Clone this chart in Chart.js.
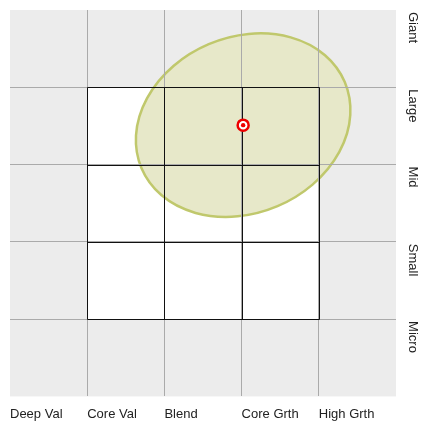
<!DOCTYPE html>
<html>
<head>
<meta charset="utf-8">
<script src="https://cdn.jsdelivr.net/npm/chart.js@4"></script>
<style>
    body { margin: 0; background: #ffffff; overflow: hidden; }
    canvas { display: block; }
</style>
</head>
<body>
<canvas id="grafico" width="422" height="424"></canvas>
<script>
// estilo (columnas) y capitalizacion (filas, de arriba hacia abajo)
let estilos = ['Deep Val', 'Core Val', 'Blend', 'Core Grth', 'High Grth'];
let tamanos = ['Giant', 'Large', 'Mid', 'Small', 'Micro'];

// caja 3x3 (en unidades de la grilla)
let cajaX = [1, 4];
let cajaY = [1, 4];

// posicion del fondo y su elipse de dispersion
let puntoX = [3.02];
let puntoY = [3.51];
let elipseRadio = [1.43, 1.14];
let elipseAngulo = -23;

let fuente = "Arial, 'Liberation Sans', sans-serif";

let pluginFondo = {
    id: 'fondo',
    beforeDraw: function(chart) {
        let ctx = chart.ctx;
        let a = chart.chartArea;
        let sx = chart.scales.x;
        let sy = chart.scales.y;

        ctx.save();
        ctx.fillStyle = '#ececec';
        ctx.fillRect(a.left, a.top, a.right - a.left, a.bottom - a.top);

        // celdas blancas de la caja
        let x0 = sx.getPixelForValue(cajaX[0]);
        let x1 = sx.getPixelForValue(cajaX[1]);
        let y0 = sy.getPixelForValue(cajaY[1]);
        let y1 = sy.getPixelForValue(cajaY[0]);
        ctx.fillStyle = '#ffffff';
        ctx.fillRect(x0, y0, x1 - x0, y1 - y0);

        // elipse
        let cx = sx.getPixelForValue(puntoX[0]);
        let cy = sy.getPixelForValue(puntoY[0]);
        let rx = sx.getPixelForValue(puntoX[0] + elipseRadio[0]) - cx;
        let ry = sx.getPixelForValue(puntoX[0] + elipseRadio[1]) - cx;
        ctx.beginPath();
        ctx.ellipse(cx, cy, rx, ry, elipseAngulo * Math.PI / 180, 0, Math.PI * 2);
        ctx.fillStyle = '#e7e8c9';
        ctx.fill();
        ctx.strokeStyle = '#c0c86c';
        ctx.lineWidth = 2.5;
        ctx.stroke();
        ctx.restore();
    },
    beforeDatasetsDraw: function(chart) {
        let ctx = chart.ctx;
        let sx = chart.scales.x;
        let sy = chart.scales.y;

        let x0 = Math.round(sx.getPixelForValue(cajaX[0])) + 0.5;
        let x1 = Math.round(sx.getPixelForValue(cajaX[1])) + 0.5;
        let y0 = Math.round(sy.getPixelForValue(cajaY[1])) + 0.5;
        let y1 = Math.round(sy.getPixelForValue(cajaY[0])) + 0.5;

        ctx.save();
        ctx.strokeStyle = '#111111';
        ctx.lineWidth = 1;
        ctx.beginPath();
        for (let v = cajaX[0]; v <= cajaX[1]; v++) {
            let px = Math.round(sx.getPixelForValue(v)) + 0.5;
            ctx.moveTo(px, y0);
            ctx.lineTo(px, y1);
        }
        for (let v = cajaY[0]; v <= cajaY[1]; v++) {
            let py = Math.round(sy.getPixelForValue(v)) + 0.5;
            ctx.moveTo(x0, py);
            ctx.lineTo(x1, py);
        }
        ctx.stroke();
        ctx.restore();
    },
    afterDraw: function(chart) {
        let ctx = chart.ctx;
        let sy = chart.scales.y;
        let a = chart.chartArea;
        ctx.save();
        ctx.font = '13px ' + fuente;
        ctx.fillStyle = '#222222';
        ctx.textAlign = 'left';
        ctx.textBaseline = 'middle';
        for (let i = 0; i < tamanos.length; i++) {
            let py = sy.getPixelForValue(5 - i) + 2;
            ctx.save();
            ctx.translate(a.right + 17, py);
            ctx.rotate(Math.PI / 2);
            ctx.fillText(tamanos[i], 0, 0);
            ctx.restore();
        }
        ctx.restore();
    }
};

function colorGrilla(c) {
    if (c.tick.value === 0 || c.tick.value === 5) {
        return 'rgba(0,0,0,0)';
    }
    return '#aaaaaa';
}

new Chart(document.getElementById('grafico'), {
    type: 'scatter',
    data: {
        datasets: [{
            // punto central (el dataset 0 se dibuja encima)
            data: [{ x: puntoX[0], y: puntoY[0] }],
            pointRadius: 2.2,
            pointBorderWidth: 0,
            pointBackgroundColor: '#ee0000',
            pointBorderColor: '#ee0000'
        }, {
            data: [{ x: puntoX[0], y: puntoY[0] }],
            pointRadius: 5.5,
            pointBorderWidth: 2.5,
            pointBackgroundColor: '#ffffff',
            pointBorderColor: '#ee0000'
        }]
    },
    plugins: [pluginFondo],
    options: {
        responsive: false,
        animation: false,
        devicePixelRatio: 1,
        layout: {
            autoPadding: false,
            // el eje x reserva el doble del padding de los ticks
            padding: { left: 10, top: 10, right: 26, bottom: -8 }
        },
        plugins: {
            legend: { display: false },
            tooltip: { enabled: false }
        },
        scales: {
            x: {
                min: 0,
                max: 5,
                border: { display: false },
                grid: { color: colorGrilla, drawTicks: false, lineWidth: 1 },
                ticks: {
                    stepSize: 1,
                    autoSkip: false,
                    maxRotation: 0,
                    minRotation: 0,
                    align: 'start',
                    padding: 10,
                    color: '#222222',
                    font: { size: 13, family: fuente },
                    callback: function(valor) {
                        return estilos[valor] || '';
                    }
                }
            },
            y: {
                min: 0,
                max: 5,
                position: 'right',
                border: { display: false },
                grid: { color: colorGrilla, drawTicks: false, lineWidth: 1 },
                ticks: { stepSize: 1, display: false }
            }
        }
    }
});
</script>
</body>
</html>
